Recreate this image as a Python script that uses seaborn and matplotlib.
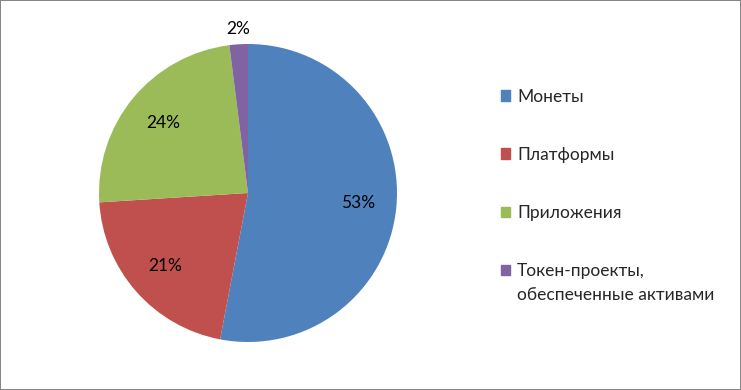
import matplotlib
matplotlib.use("Agg")
import matplotlib.pyplot as plt
import matplotlib.patches as mpatches
import numpy as np
import seaborn as sns

# data
categories = ["Монеты", "Платформы", "Приложения", "Токен-проекты,"]
last_label_tail = "обеспеченные активами"
shares = [53, 21, 24, 2]
colors = ["#4F81BD", "#C0504D", "#9BBB59", "#8064A2"]

sns.set_theme(style="white")
plt.rcParams["font.family"] = ["Lato", "DejaVu Sans"]
fs = 12.5

fig = plt.figure(figsize=(7.41, 3.90), dpi=100, linewidth=1.2, edgecolor="#868686")
ax = fig.add_axes([99 / 741, 48 / 390, 298 / 741, 298 / 390])

wedges, texts, autotexts = ax.pie(
    shares, colors=colors, startangle=90, counterclock=False,
    autopct="%1.0f%%", pctdistance=0.74,
    wedgeprops=dict(linewidth=0), textprops=dict(fontsize=fs, color="black"),
)

# small slices get their label outside the pie
for w, t in zip(wedges, autotexts):
    if w.theta2 - w.theta1 < 15:
        mid = np.deg2rad((w.theta1 + w.theta2) / 2)
        t.set_position((1.1 * np.cos(mid), 1.1 * np.sin(mid)))

ax.set_xlim(-1, 1)
ax.set_ylim(-1, 1)
ax.set_aspect("equal")

handles = [mpatches.Patch(color=c, label=l) for c, l in zip(colors, categories)]
leg = fig.legend(
    handles=handles, loc="upper left", bbox_to_anchor=(485 / 741, 1 - 73 / 390),
    frameon=False, fontsize=fs, labelspacing=2.43,
    handlelength=0.55, handleheight=0.55, handletextpad=0.4,
)

# second line of the last legend entry, under its first line
fig.canvas.draw()
bb = leg.get_texts()[-1].get_window_extent().transformed(fig.transFigure.inverted())
fig.text(bb.x0, bb.y0 - 0.02, last_label_tail, fontsize=fs, va="top", ha="left")

fig.savefig("out.png", dpi=100)
